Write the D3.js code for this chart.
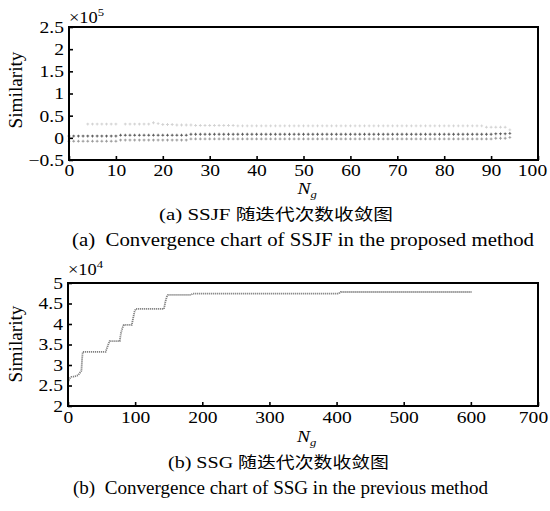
<!DOCTYPE html>
<html><head><meta charset="utf-8">
<script src="https://cdn.jsdelivr.net/npm/d3@7"></script>
<style>body{margin:0;background:#fff}svg{display:block}</style>
</head><body>
<svg id="c" width="550" height="511"></svg>
<script>
// ---------- DATA ----------
// Top chart (SSJF, x10^5): value per generation (array index = generation N_g)
const ssjfUpper = [
 null,null,null,null,0.31,0.31,0.31,0.31,0.31,0.31,
 0.31,null,0.31,0.31,0.31,0.31,0.31,0.31,0.34,0.32,
 0.30,0.30,0.30,0.29,0.29,0.29,0.29,0.28,0.28,0.28,
 0.28,0.28,0.28,0.28,0.28,0.28,0.27,0.27,0.27,0.27,
 0.27,0.27,0.27,0.27,0.27,0.27,0.27,0.27,0.27,0.27,
 0.27,0.27,0.27,0.27,0.27,0.27,0.27,0.27,0.27,0.27,
 0.27,0.27,0.27,0.27,0.27,0.27,0.27,0.27,0.27,0.27,
 0.27,0.27,0.27,0.27,0.27,0.27,0.27,0.27,0.27,0.27,
 0.27,0.27,0.27,0.27,0.27,0.27,0.27,0.27,0.27,0.24,
 0.24,0.24,0.24,0.24,0.18];
const ssjfMiddle = [
 0.04,0.04,0.04,0.04,0.04,0.04,0.04,0.04,0.04,0.04,
 0.04,0.06,0.06,0.06,0.06,0.06,0.06,0.06,0.06,0.06,
 0.06,0.06,0.06,0.06,0.06,0.06,0.08,0.08,0.08,0.08,
 0.08,0.08,0.08,0.08,0.08,0.08,0.08,0.08,0.08,0.08,
 0.08,0.08,0.08,0.08,0.08,0.08,0.08,0.08,0.08,0.08,
 0.08,0.08,0.08,0.08,0.08,0.08,0.08,0.08,0.08,0.08,
 0.08,0.08,0.08,0.08,0.08,0.08,0.08,0.08,0.08,0.08,
 0.08,0.08,0.08,0.08,0.08,0.08,0.08,0.08,0.08,0.08,
 0.08,0.08,0.08,0.08,0.08,0.08,0.08,0.08,0.08,0.08,
 0.08,0.09,0.09,0.09,0.10];
const ssjfLower = [
 -0.075,-0.075,-0.075,-0.075,-0.075,-0.075,-0.075,-0.075,-0.075,-0.075,
 -0.075,-0.05,-0.05,-0.05,-0.05,-0.05,-0.05,-0.05,-0.05,-0.05,
 -0.05,-0.05,-0.05,-0.05,-0.05,-0.05,-0.025,-0.025,-0.025,-0.025,
 -0.025,-0.025,-0.025,-0.025,-0.025,-0.025,-0.025,-0.025,-0.025,-0.025,
 -0.025,-0.025,-0.025,-0.025,-0.025,-0.025,-0.025,-0.025,-0.025,-0.025,
 -0.025,-0.025,-0.025,-0.025,-0.025,-0.025,-0.025,-0.025,-0.025,-0.025,
 -0.025,-0.025,-0.025,-0.025,-0.025,-0.025,-0.025,-0.025,-0.025,-0.025,
 -0.025,-0.025,-0.025,-0.025,-0.025,-0.025,-0.025,-0.025,-0.025,-0.025,
 -0.025,-0.025,-0.025,-0.025,-0.025,-0.025,-0.025,-0.025,-0.025,-0.025,
 -0.025,-0.01,-0.01,-0.01,0.01];

// Bottom chart (SSG, x10^4): breakpoints of the convergence curve
const ssgGen   = [0,3,5,10,15,20,21,22,56,58,60,62,77,79,81,83,95,97,99,101,143,145,147,149,183,186,403,406,601];
const ssgValue = [2.58,2.68,2.71,2.72,2.75,2.86,3.15,3.32,3.32,3.41,3.50,3.58,3.58,3.79,3.90,3.98,3.98,4.14,4.30,4.37,4.37,4.54,4.66,4.71,4.71,4.74,4.74,4.78,4.78];

const topXTicks = [0,10,20,30,40,50,60,70,80,90,100];
const topYTicks = [-0.5,0,0.5,1,1.5,2,2.5];
const botXTicks = [0,100,200,300,400,500,600,700];
const botYTicks = [2,2.5,3,3.5,4,4.5,5];

const yLabel = "Similarity";
const xLabelMain = "N", xLabelSub = "g";
const topExp = "5", botExp = "4";
const captionA_cn = ["(a)  SSJF ", "随迭代次数收敛图"];
const captionA_en = "(a)  Convergence chart of SSJF in the proposed method";
const captionB_cn = ["(b)  SSG ", "随迭代次数收敛图"];
const captionB_en = "(b)  Convergence chart of SSG in the previous method";

// ---------- DRAW ----------
const svg = d3.select("#c");
const SERIF = "'Liberation Serif','Times New Roman',serif";
const CJK = "'Noto Sans CJK SC',sans-serif";
const SX = 1.15;

function drawPanel(cfg){
  const g = svg.append("g");
  const x = d3.scaleLinear(cfg.xDomain, [cfg.x0, cfg.x1]);
  const y = d3.scaleLinear(cfg.yDomain, [cfg.y1, cfg.y0]);

  const ax = g.append("g").attr("transform", `translate(0,${cfg.y1})`)
    .call(d3.axisBottom(x).tickValues(cfg.xTicks).tickSizeInner(-4).tickSizeOuter(0).tickPadding(cfg.xPad).tickFormat(d3.format("")));
  const ay = g.append("g").attr("transform", `translate(${cfg.x0},0)`)
    .call(d3.axisLeft(y).tickValues(cfg.yTicks).tickSizeInner(-4).tickSizeOuter(0).tickPadding(5).tickFormat(d3.format("")));
  [ax, ay].forEach(a => {
    a.attr("font-family", null).attr("font-size", null);
    a.select(".domain").remove();
    a.selectAll(".tick line").attr("stroke", "#000").attr("stroke-width", 1.6);
    a.selectAll(".tick text").style("font-family", SERIF).style("font-size", "17px").attr("fill", "#000");
  });
  const nX = cfg.xTicks.length;
  ax.selectAll(".tick text").each(function(d, i){
    const t = d3.select(this);
    // last label is pulled left so it stays inside the figure
    const shift = (i === nX - 1) ? cfg.lastShift : 0;
    t.attr("x", shift / SX).attr("transform", `scale(${SX},1)`);
  });
  ay.selectAll(".tick text").each(function(){
    const t = d3.select(this);
    t.attr("x", (+t.attr("x"))/SX).attr("transform", `scale(${SX},1)`);
  });

  cfg.marks(g, x, y);

  g.append("rect").attr("x", cfg.x0).attr("y", cfg.y0)
    .attr("width", cfg.x1 - cfg.x0).attr("height", cfg.y1 - cfg.y0)
    .attr("fill", "none").attr("stroke", "#000").attr("stroke-width", 2);

  // exponent label
  const ex = g.append("text").attr("transform", `translate(${cfg.x0},${cfg.expY}) scale(${SX},1)`)
    .style("font-family", SERIF).style("font-size", "16px");
  ex.append("tspan").text("×10");
  ex.append("tspan").style("font-size", "11px").attr("dy", -7).text(cfg.exp);

  // y label
  g.append("text").attr("transform", `translate(22,${cfg.yLabY}) rotate(-90)`)
    .attr("text-anchor", "middle").style("font-family", SERIF).style("font-size", "18px")
    .attr("textLength", 77).attr("lengthAdjust", "spacingAndGlyphs").text(yLabel);

  // x label
  const xl = g.append("text").attr("transform", `translate(${(cfg.x0+cfg.x1)/2 - 6},${cfg.xLabY}) scale(${SX},1)`)
    .style("font-family", SERIF).style("font-style", "italic").style("font-size", "17px");
  xl.append("tspan").text(xLabelMain);
  xl.append("tspan").style("font-size", "11px").attr("dy", 4).text(xLabelSub);

  // captions
  const c1 = g.append("text").attr("x", cfg.cnX0).attr("y", cfg.cnY)
    .attr("textLength", cfg.cnW).attr("lengthAdjust", "spacingAndGlyphs").style("font-size", "17px");
  c1.append("tspan").style("font-family", SERIF).text(cfg.cn[0]);
  c1.append("tspan").style("font-family", CJK).style("font-size", "16px").text(cfg.cn[1]);
  g.append("text").attr("x", cfg.enX0).attr("y", cfg.enY)
    .attr("textLength", cfg.enW).attr("lengthAdjust", "spacingAndGlyphs")
    .style("font-family", SERIF).style("font-size", "18px").style("white-space", "pre").text(cfg.en);
}

const cross = d3.symbol().type(d3.symbolCross).size(4.5);

drawPanel({
  x0: 69, x1: 538, y0: 27, y1: 160,
  xDomain: [0,100], yDomain: [-0.5,2.5],
  xTicks: topXTicks, yTicks: topYTicks, xPad: 4, lastShift: -6,
  exp: topExp, expY: 23, yLabY: 90, xLabY: 194,
  cn: captionA_cn, cnX0: 159, cnY: 220, cnW: 234,
  en: captionA_en, enX0: 72, enY: 246, enW: 462,
  marks: (g, x, y) => {
    const series = [
      {vals: ssjfUpper, color: "#d2d2d2"},
      {vals: ssjfLower, color: "#9a9a9a"},
      {vals: ssjfMiddle, color: "#5a5a5a"}
    ];
    series.forEach(s => {
      const pts = s.vals.map((v,i) => ({g:i, v:v})).filter(d => d.v !== null);
      g.append("g").selectAll("path").data(pts).join("path")
        .attr("d", cross)
        .attr("transform", d => `translate(${x(d.g)},${y(d.v)})`)
        .attr("fill", s.color);
    });
  }
});

drawPanel({
  x0: 68, x1: 538, y0: 283, y1: 406,
  xDomain: [0,700], yDomain: [2,5],
  xTicks: botXTicks, yTicks: botYTicks, xPad: 5, lastShift: -5,
  exp: botExp, expY: 275, yLabY: 344, xLabY: 442,
  cn: captionB_cn, cnX0: 168, cnY: 468, cnW: 221,
  en: captionB_en, enX0: 73, enY: 494, enW: 415,
  marks: (g, x, y) => {
    const pts = ssgGen.map((d,i) => [d, ssgValue[i]]);
    g.append("path").datum(pts)
      .attr("d", d3.line().x(d => x(d[0])).y(d => y(d[1])))
      .attr("fill", "none").attr("stroke", "#808080")
      .attr("stroke-width", 1.8).attr("stroke-dasharray", "1.2,0.8");
  }
});
</script>
</body></html>
